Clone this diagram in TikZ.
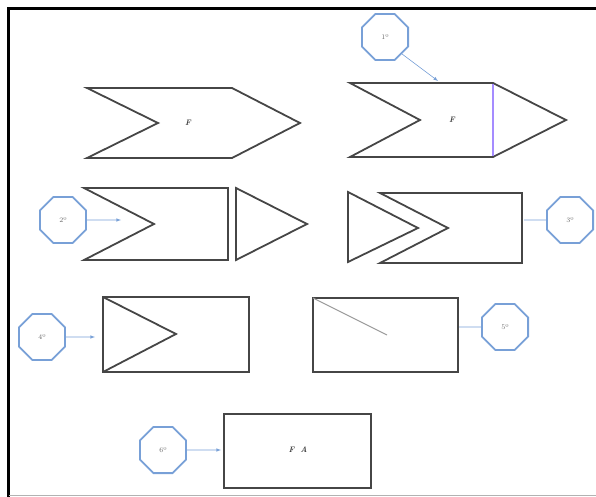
\documentclass[tikz,border=0pt]{standalone}
\usetikzlibrary{shapes.geometric}
\definecolor{octblue}{RGB}{120,160,215}
\definecolor{shapegray}{RGB}{70,70,70}
\definecolor{seamviolet}{RGB}{165,140,255}
\tikzset{
  oct/.style={regular polygon, regular polygon sides=8, draw=octblue, line width=1.8pt,
    minimum size=50pt, inner sep=0pt, font=\fontsize{7}{7}\selectfont, text=black!60},
  pointer/.style={octblue, line width=0.6pt, ->, >=latex},
  part/.style={shapegray, line width=1.8pt, line join=miter},
  lbl/.style={font=\fontsize{8}{8}\selectfont\itshape\bfseries, text=black!75}
}
\begin{document}
\begin{tikzpicture}[x=1pt,y=-1pt]
\useasboundingbox (0,0) rectangle (596,497);

% frame
\draw[line width=3pt] (596,8.5) -- (8.5,8.5) -- (8.5,497);
\draw[black!30, line width=1.5pt] (8.5,495.5) -- (596,495.5);

% row 1
\draw[part] (87,88) -- (232,88) -- (300,123) -- (232,158) -- (87,158) -- (158,123) -- cycle;
\node[lbl] (f1) at (188,123) {F};

\draw[part] (350,83) -- (493,83) -- (566,120) -- (493,157) -- (350,157) -- (420,120) -- cycle;
\draw[seamviolet, line width=1.2pt] (493,84) -- (493,156);
\node[lbl] (f2) at (452,120) {F};

\node[oct] (o1) at (385,37) {1º};
\coordinate (p1) at (438,81);
\draw[pointer] (o1.south east) -- (p1);

% row 2
\draw[part] (84,188) -- (228,188) -- (228,260) -- (84,260) -- (154,224) -- cycle;
\draw[part] (236,188) -- (307,224) -- (236,260) -- cycle;

\node[oct] (o2) at (63,220) {2º};
\coordinate (p2) at (121,220);
\draw[pointer] (o2.east) -- (p2);

\draw[part] (348,192) -- (418,228) -- (348,262) -- cycle;
\draw[part] (380,193) -- (522,193) -- (522,263) -- (380,263) -- (448,228) -- cycle;

\node[oct] (o3) at (570,220) {3º};
\coordinate (p3) at (524,220);
\draw[octblue, line width=0.6pt] (o3.west) -- (p3);

% row 3
\draw[part] (103,297) rectangle (249,372);
\draw[part] (103,297) -- (176,334) -- (103,372);

\node[oct] (o4) at (42,337) {4º};
\coordinate (p4) at (95,337);
\draw[pointer] (o4.east) -- (p4);

\draw[part] (313,298) rectangle (458,372);
\draw[black!40, line width=1pt] (313,298) -- (387,335);

\node[oct] (o5) at (505,327) {5º};
\coordinate (p5) at (459,327);
\draw[octblue, line width=0.6pt] (o5.west) -- (p5);

% row 4
\draw[part] (224,414) rectangle (371,488);
\node[lbl] (fa) at (298,450) {F\hspace{6pt}A};

\node[oct] (o6) at (163,450) {6º};
\coordinate (p6) at (221,450);
\draw[pointer] (o6.east) -- (p6);

\end{tikzpicture}
\end{document}
